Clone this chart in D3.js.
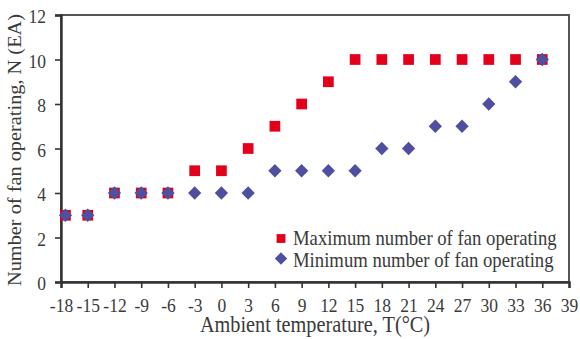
<!DOCTYPE html>
<html><head><meta charset="utf-8">
<script src="https://cdn.jsdelivr.net/npm/d3@7/dist/d3.min.js"></script>
<style>body{margin:0;background:#fff}svg{display:block}</style>
</head><body>
<svg id="c" width="580" height="339"></svg>
<script>
const temps = [-17.5,-15,-12,-9,-6,-3,0,3,6,9,12,15,18,21,24,27,30,33,36];
const maxFans = [3,3,4,4,4,5,5,6,7,8,9,10,10,10,10,10,10,10,10];
const minFans = [3,3,4,4,4,4,4,4,5,5,5,5,6,6,7,7,8,9,10];
const xTicks = [-18,-15,-12,-9,-6,-3,0,3,6,9,12,15,18,21,24,27,30,33,36,39];
const yTicks = [0,2,4,6,8,10,12];
const seriesNames = ["Maximum number of fan operating","Minimum number of fan operating"];

const svg = d3.select("#c");
const m = {l:61, r:569, t:15, b:282};
const x = d3.scaleLinear().domain([-18,39]).range([m.l,m.r]);
const y = d3.scaleLinear().domain([0,12]).range([m.b,m.t]);
const font = "Liberation Serif, Times New Roman, serif";
const red = "#e2001a", blue = "#4f4f9f", axisCol = "#333", txt = "#3a3a3a";
const vs = 1.13; // vertical stretch of text

// frame
svg.append("rect").attr("x",m.l).attr("y",m.t).attr("width",m.r-m.l).attr("height",m.b-m.t)
  .attr("fill","none").attr("stroke","#555").attr("stroke-width",2);

const xa = svg.append("g").attr("transform",`translate(0,${m.b})`)
  .call(d3.axisBottom(x).tickValues(xTicks).tickSize(6).tickFormat(d=>d<0?"-"+Math.abs(d):String(d)));
const ya = svg.append("g").attr("transform",`translate(${m.l},0)`)
  .call(d3.axisLeft(y).tickValues(yTicks).tickSize(6));
[xa,ya].forEach(a=>{
  a.select(".domain").attr("stroke",axisCol).attr("stroke-width",2.4);
  a.selectAll(".tick line").attr("stroke",axisCol).attr("stroke-width",1.6);
  a.selectAll("text").attr("font-family",font).attr("font-size",17.5).attr("fill",txt)
    .attr("x",0).attr("y",0).attr("dy",null);
});
xa.selectAll("text").attr("transform",`translate(0,29.7) scale(1,${vs})`);
ya.selectAll("text").attr("text-anchor","end").attr("transform",`translate(-15,7.5) scale(1,${vs})`);

const sq = d3.symbol().type(d3.symbolSquare);
const diamondType = {draw(ctx,size){const r=Math.sqrt(size/2);ctx.moveTo(0,-r);ctx.lineTo(r,0);ctx.lineTo(0,r);ctx.lineTo(-r,0);ctx.closePath();}};
const dm = d3.symbol().type(diamondType);

svg.append("g").selectAll("path").data(temps).join("path")
  .attr("d",sq.size(115)()).attr("fill",red)
  .attr("transform",(d,i)=>`translate(${x(d)},${y(maxFans[i])})`);
svg.append("g").selectAll("path").data(temps).join("path")
  .attr("d",dm.size(88)()).attr("fill",blue)
  .attr("transform",(d,i)=>`translate(${x(d)},${y(minFans[i])})`);

// legend
const lg = svg.append("g");
lg.append("path").attr("d",sq.size(78)()).attr("fill",red).attr("transform","translate(281,238.5)");
lg.append("path").attr("d",dm.size(76)()).attr("fill",blue).attr("transform","translate(281,258.5)");
lg.selectAll("text").data(seriesNames).join("text")
  .attr("transform",(d,i)=>`translate(293,${245+i*21.5}) scale(1,${vs})`)
  .attr("font-family",font).attr("font-size",18.7).attr("fill",txt).text(d=>d);

// titles
svg.append("text").attr("transform",`translate(${(m.l+m.r)/2},331.5) scale(1,${vs})`)
  .attr("text-anchor","middle").attr("font-family",font).attr("font-size",20.3).attr("fill",txt)
  .text("Ambient temperature, T(°C)");
svg.append("text").attr("transform",`translate(21,${(m.t+m.b)/2+1.5}) rotate(-90) scale(${vs},1)`)
  .attr("text-anchor","middle").attr("font-family",font).attr("font-size",18).attr("fill",txt)
  .text("Number of fan operating, N (EA)");
</script>
</body></html>
